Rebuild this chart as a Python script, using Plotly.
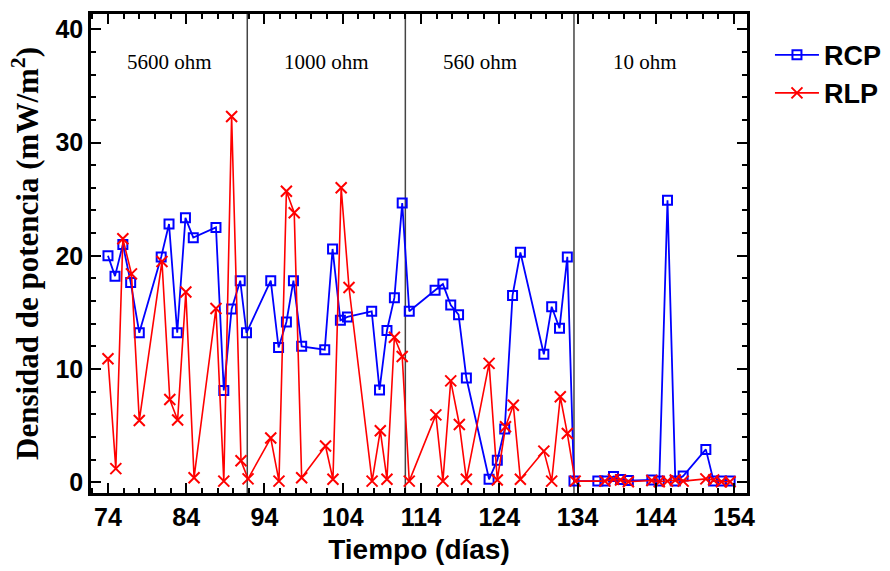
import plotly.graph_objects as go

# ---- data ----
rcp_days = [74.0, 74.9, 75.9, 76.9, 78.0, 80.8, 81.8, 82.85, 83.9, 84.9, 87.8, 88.8, 89.8, 90.9, 91.7,
            94.8, 95.8, 96.8, 97.7, 98.75, 101.7, 102.7, 103.7, 104.6, 107.7, 108.7, 109.65, 110.6, 111.6, 112.5,
            115.8, 116.8, 117.8, 118.8, 119.8, 122.7, 123.75, 124.7, 125.7, 126.7, 129.7, 130.7, 131.7, 132.7, 133.55,
            136.6, 137.5, 138.6, 139.5, 140.5, 143.5, 144.45, 145.5, 146.5, 147.5, 150.4, 151.4, 152.4, 153.5]
rcp_vals = [20.0, 18.2, 21.0, 17.65, 13.2, 19.9, 22.8, 13.2, 23.35, 21.6, 22.5, 8.1, 15.3, 17.8, 13.2,
            17.8, 11.9, 14.15, 17.8, 12.0, 11.7, 20.6, 14.3, 14.6, 15.1, 8.15, 13.4, 16.3, 24.65, 15.1,
            16.95, 17.5, 15.65, 14.8, 9.2, 0.26, 1.95, 4.7, 16.5, 20.3, 11.3, 15.5, 13.6, 19.9, 0.1,
            0.1, 0.1, 0.5, 0.25, 0.15, 0.2, 0.1, 24.9, 0.1, 0.55, 2.9, 0.1, 0.1, 0.1]

rlp_days = [74.0, 75.0, 75.9, 77.0, 78.0, 80.9, 81.9, 82.9, 83.95, 85.0, 87.8, 88.8, 89.8, 91.0, 91.9,
            94.8, 95.85, 96.8, 97.8, 98.75, 101.8, 102.75, 103.8, 104.8, 107.75, 108.8, 109.65, 110.6, 111.6, 112.5,
            115.9, 116.8, 117.8, 118.9, 119.8, 122.7, 123.75, 124.8, 125.8, 126.7, 129.7, 130.7, 131.8, 132.7, 133.7,
            137.5, 138.6, 139.5, 140.5, 143.5, 144.45, 145.5, 146.5, 147.5, 150.4, 151.4, 152.4, 153.5]
rlp_vals = [10.9, 1.2, 21.5, 18.4, 5.45, 19.5, 7.3, 5.5, 16.8, 0.4, 15.35, 0.1, 32.3, 1.9, 0.3,
            3.9, 0.1, 25.7, 23.8, 0.4, 3.2, 0.26, 26.0, 17.2, 0.1, 4.55, 0.26, 12.8, 11.1, 0.1,
            5.95, 0.1, 8.95, 5.1, 0.26, 10.5, 0.2, 4.9, 6.8, 0.26, 2.75, 0.1, 7.55, 4.3, 0.1,
            0.1, 0.25, 0.2, 0.05, 0.15, 0.05, 0.1, 0.2, 0.1, 0.3, 0.2, 0.05, 0.05]

boundary_days = [91.8, 112.0, 133.55]
resistance_labels = ["5600 ohm", "1000 ohm", "560 ohm", "10 ohm"]
resistance_label_days = [81.8, 101.9, 121.6, 142.6]
resistance_label_level = 37.1

x_ticks = [74, 84, 94, 104, 114, 124, 134, 144, 154]
y_ticks = [0, 10, 20, 30, 40]

SANS = "Liberation Sans, Arial, sans-serif"
SERIF = "Liberation Serif, Times New Roman, serif"

fig = go.Figure()
fig.add_trace(go.Scatter(
    x=rcp_days, y=rcp_vals, name="RCP", mode="lines+markers",
    line=dict(color="#0000ff", width=1.8),
    marker=dict(symbol="square-open", size=9, color="#0000ff", line=dict(width=2, color="#0000ff")),
))
fig.add_trace(go.Scatter(
    x=rlp_days, y=rlp_vals, name="RLP", mode="lines+markers",
    line=dict(color="#ff0000", width=1.6),
    marker=dict(symbol="x-thin-open", size=11, color="#ff0000", line=dict(width=2, color="#ff0000")),
))

for b in boundary_days:
    fig.add_shape(type="line", x0=b, x1=b, y0=0, y1=1, xref="x", yref="paper",
                  line=dict(color="#444444", width=1.5), layer="below")

for lbl, d in zip(resistance_labels, resistance_label_days):
    fig.add_annotation(x=d, y=resistance_label_level, text=lbl, showarrow=False,
                       xref="x", yref="y", font=dict(family=SERIF, size=21, color="black"))

axis_common = dict(
    showline=True, linecolor="black", linewidth=2.5, mirror="allticks",
    ticks="inside", ticklen=10, tickwidth=2, tickcolor="black",
    showgrid=False, zeroline=False,
    tickfont=dict(family=SANS, size=25, color="black", weight="bold"),
)

fig.update_xaxes(
    **axis_common, range=[71.83, 155.66], tickvals=x_ticks,
    minor=dict(dtick=2, tick0=74, ticks="inside", ticklen=5, tickwidth=1.5, tickcolor="black", showgrid=False),
    title=dict(text="Tiempo (días)", font=dict(family=SANS, size=28, color="black", weight="bold"), standoff=10),
)
fig.update_yaxes(
    **axis_common, range=[-0.95, 41.35], tickvals=y_ticks,
    minor=dict(dtick=2, tick0=0, ticks="inside", ticklen=5, tickwidth=1.5, tickcolor="black", showgrid=False),
    title=dict(text="Densidad de potencia (mW/m<sup>2</sup>)",
               font=dict(family=SERIF, size=31, color="black", weight="bold"), standoff=8),
)

fig.update_layout(
    width=890, height=571,
    margin=dict(l=91, r=143, t=14, b=78, autoexpand=False),
    plot_bgcolor="white", paper_bgcolor="white",
    showlegend=True,
    legend=dict(x=1.035, y=0.965, xanchor="left", yanchor="top",
                font=dict(family=SANS, size=27, color="black", weight="bold"),
                bgcolor="rgba(0,0,0,0)", itemwidth=44, tracegroupgap=0),
)

fig.write_html("out.html")
